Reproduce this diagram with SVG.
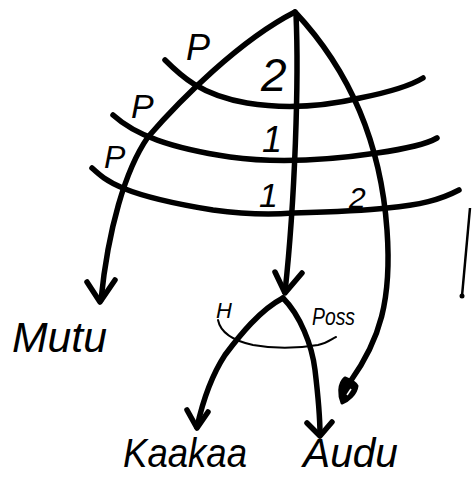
<svg xmlns="http://www.w3.org/2000/svg" width="472" height="478" viewBox="0 0 472 478">
<style>
.thick{fill:none;stroke:#000;stroke-width:5.5;stroke-linecap:round;stroke-linejoin:round}
.thin{fill:none;stroke:#000;stroke-width:2;stroke-linecap:round}
.lbl{font-family:"Liberation Sans",Arial,sans-serif;font-style:italic;fill:#000}
</style>
<rect width="472" height="478" fill="#fff"/>
<g id="connectors">
  <path class="thick" d="M295,12 C240,40 180,100 148,137 C125,170 108,230 101,300"/>
  <path class="thick" d="M87,282 L100,302 L115,280"/>
  <path class="thick" d="M296,14 C299,80 295,200 285,292"/>
  <path class="thick" d="M275,272 L285,293 L302,273"/>
  <path class="thick" d="M295,12 C340,60 380,130 387,230 C392,300 380,340 350,382"/>
  <path d="M345,378 C338,384 339,396 342,403 C348,401 356,394 357,386 C355,382 350,380 345,378 Z" fill="#000" stroke="#000" stroke-width="3" stroke-linejoin="round"/>
  <path d="M347,395 L351,389" stroke="#fff" stroke-width="1.5"/>
  <path class="thick" d="M165,60 C180,75 200,95 247,103 C290,110 330,105 360,98 C390,92 410,86 423,78"/>
  <path class="thick" d="M113,115 C135,135 170,148 230,157 C280,164 330,160 377,153 C405,149 425,145 437,138"/>
  <path class="thick" d="M92,168 C105,180 120,195 213,210 C250,215 280,214 293,213 C330,212 370,210 387,208 C420,205 440,200 459,190"/>
  <path class="thick" d="M283,298 C260,310 240,335 225,355 C212,375 203,400 197,427"/>
  <path class="thick" d="M187,410 L197,428 L208,412"/>
  <path class="thick" d="M283,298 C300,315 312,345 315,370 C318,395 320,415 320,435"/>
  <path class="thick" d="M307,423 L320,436 L332,422"/>
  <path class="thin" d="M218,320 C220,330 230,340 253,345 C275,349 300,348 318,345 C328,343 333,338 336,337"/>
  <path d="M470,208 L462,296" stroke="#000" stroke-width="2.5" fill="none"/>
  <circle cx="462" cy="296" r="2.5" fill="#000"/>
</g>
<g id="labels">
  <text class="lbl" x="186" y="60" font-size="36">P</text>
  <text class="lbl" x="131" y="118" font-size="34">P</text>
  <text class="lbl" x="104" y="168" font-size="32">P</text>
  <text class="lbl" x="261" y="91" font-size="46">2</text>
  <text class="lbl" x="262" y="152" font-size="36">1</text>
  <text class="lbl" x="259" y="207" font-size="34">1</text>
  <text class="lbl" x="349" y="208" font-size="30">2</text>
  <text class="lbl" x="216" y="318" font-size="22">H</text>
  <text class="lbl" x="312" y="325" font-size="24" textLength="43" lengthAdjust="spacingAndGlyphs">Poss</text>
</g>
<g id="node-mutu"><text class="lbl" x="12" y="352" font-size="42" textLength="95" lengthAdjust="spacingAndGlyphs">Mutu</text></g>
<g id="node-kaakaa"><text class="lbl" x="123" y="467" font-size="40" textLength="124" lengthAdjust="spacingAndGlyphs">Kaakaa</text></g>
<g id="node-audu"><text class="lbl" x="303" y="467" font-size="40" textLength="95" lengthAdjust="spacingAndGlyphs">Audu</text></g>
</svg>
